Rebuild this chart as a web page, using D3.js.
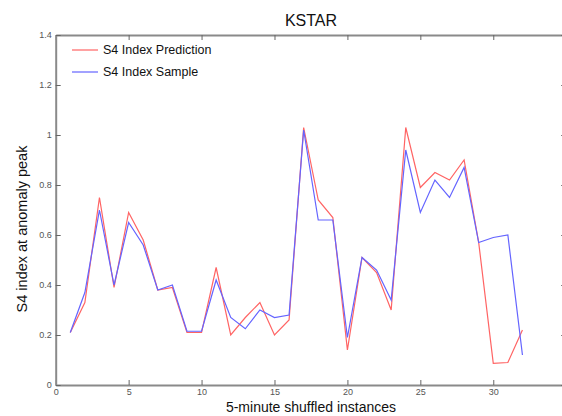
<!DOCTYPE html>
<html><head><meta charset="utf-8">
<script src="https://cdn.jsdelivr.net/npm/d3@7"></script>
<style>body{margin:0;background:#fff;}svg{display:block;}</style>
</head><body>
<svg id="c" width="562" height="416"></svg>
<script>
const instances = d3.range(1, 33);
const prediction = [0.21,0.33,0.75,0.39,0.69,0.58,0.38,0.39,0.21,0.21,0.47,0.20,0.27,0.33,0.20,0.26,1.03,0.74,0.67,0.14,0.51,0.45,0.30,1.03,0.79,0.85,0.82,0.90,0.57,0.087,0.09,0.22];
const sample = [0.21,0.37,0.70,0.40,0.65,0.56,0.38,0.40,0.215,0.215,0.42,0.27,0.225,0.30,0.27,0.28,1.02,0.66,0.66,0.19,0.51,0.46,0.34,0.94,0.69,0.82,0.75,0.87,0.57,0.59,0.60,0.12];
const xTicks = [0,5,10,15,20,25,30];
const yTicks = [0,0.2,0.4,0.6,0.8,1,1.2,1.4];
const seriesNames = ["S4 Index Prediction","S4 Index Sample"];
const seriesColors = ["#ff6464","#6464ff"];

const svg = d3.select("#c");
const L = 55.7, R = 566.2, T = 35, B = 385;
const x = d3.scaleLinear().domain([0,35]).range([L,R]);
const y = d3.scaleLinear().domain([0,1.4]).range([B,T]);

const fmt = d => String(+d.toFixed(1));
const tickCol = "#555";
const gB = svg.append("g").attr("transform",`translate(0,${B})`)
  .call(d3.axisBottom(x).tickValues(xTicks).tickFormat(fmt).tickSizeInner(-5).tickSizeOuter(0).tickPadding(4));
const gT = svg.append("g").attr("transform",`translate(0,${T})`)
  .call(d3.axisTop(x).tickValues(xTicks).tickFormat("").tickSizeInner(-5).tickSizeOuter(0));
const gL = svg.append("g").attr("transform",`translate(${L},0)`)
  .call(d3.axisLeft(y).tickValues(yTicks).tickFormat(fmt).tickSizeInner(-5).tickSizeOuter(0).tickPadding(4));
const gR = svg.append("g").attr("transform",`translate(${R},0)`)
  .call(d3.axisRight(y).tickValues(yTicks).tickFormat("").tickSizeInner(-5).tickSizeOuter(0));
[gB,gT,gL,gR].forEach(g=>{
  g.select(".domain").attr("stroke","#8a8a8a").attr("stroke-width",2);
  g.selectAll(".tick line").attr("stroke","#666");
  g.selectAll("text").attr("font-family","Liberation Sans, Arial, sans-serif").attr("font-size",9).attr("fill",tickCol);
});

const line = d3.line().x((d,i)=>x(instances[i])).y(d=>y(d));
[prediction, sample].forEach((s,k)=>{
  svg.append("path").datum(s).attr("d",line).attr("fill","none")
    .attr("stroke",seriesColors[k]).attr("stroke-width",1.2);
});

seriesNames.forEach((n,k)=>{
  const ly = 50 + k*22;
  svg.append("line").attr("x1",72).attr("x2",98).attr("y1",ly).attr("y2",ly)
    .attr("stroke",seriesColors[k]).attr("stroke-width",1.2);
  svg.append("text").attr("x",103).attr("y",ly+4).text(n)
    .attr("font-family","Liberation Sans, Arial, sans-serif").attr("font-size",12.5).attr("fill","#111");
});

svg.append("text").attr("x",311).attr("y",26).attr("text-anchor","middle").text("KSTAR")
  .attr("font-family","Liberation Sans, Arial, sans-serif").attr("font-size",16).attr("fill","#111");
svg.append("text").attr("x",311).attr("y",412).attr("text-anchor","middle").text("5-minute shuffled instances")
  .attr("font-family","Liberation Sans, Arial, sans-serif").attr("font-size",14).attr("fill","#111");
svg.append("text").attr("transform","translate(27,229) rotate(-90)").attr("text-anchor","middle").text("S4 index at anomaly peak")
  .attr("font-family","Liberation Sans, Arial, sans-serif").attr("font-size",14.5).attr("fill","#111");
</script>
</body></html>
